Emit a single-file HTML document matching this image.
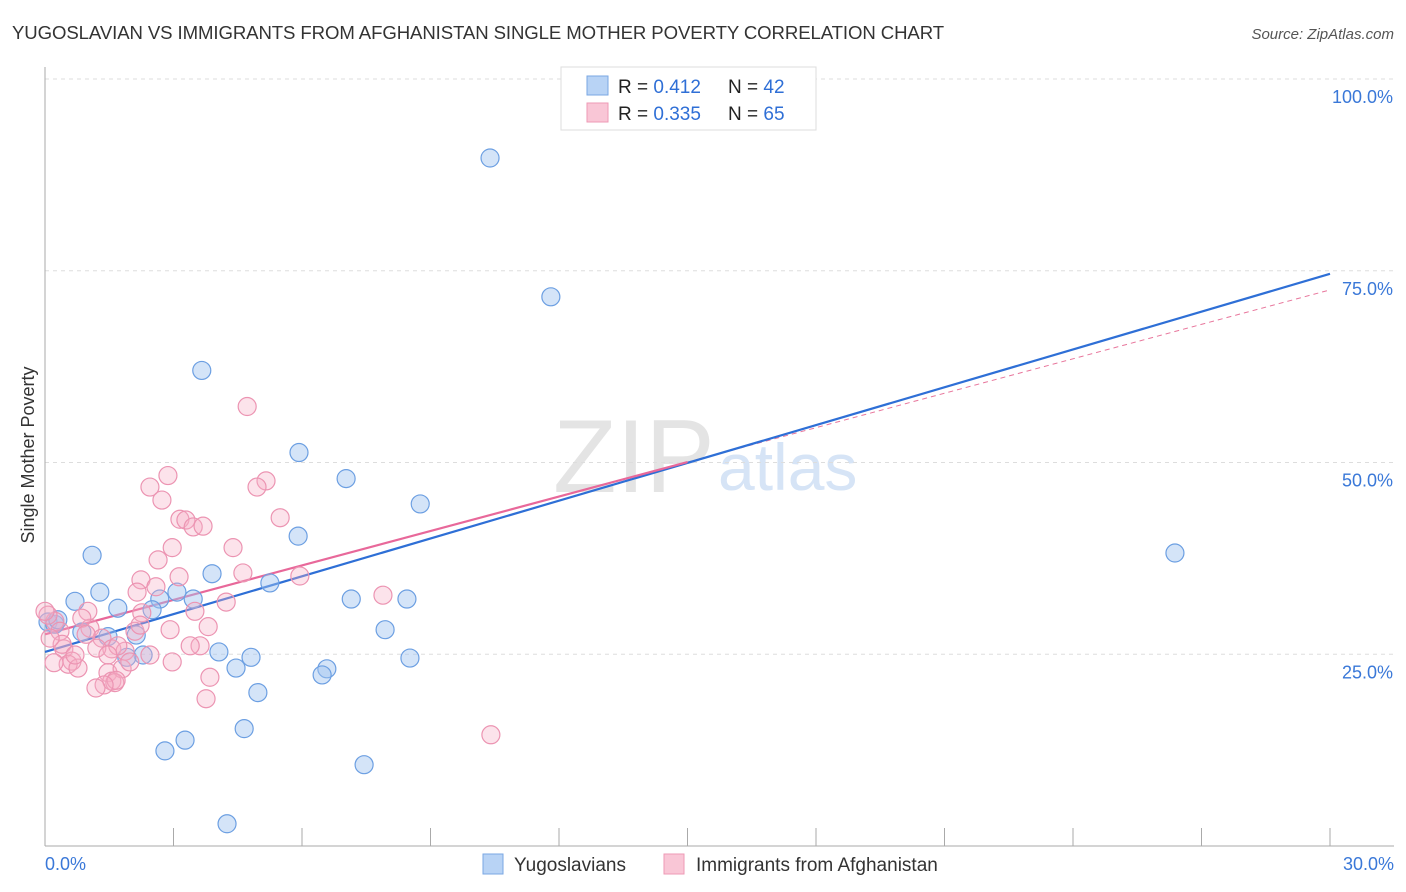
<!DOCTYPE html>
<html><head><meta charset="utf-8">
<style>
body{margin:0;background:#fff;font-family:"Liberation Sans",sans-serif;}
#wrap{position:relative;width:1406px;height:892px;overflow:hidden}
svg text{font-family:"Liberation Sans",sans-serif}
</style></head><body>
<div id="wrap">
<svg id="c" width="1406" height="892" xmlns="http://www.w3.org/2000/svg">
<text x="12" y="39" font-size="18.6" fill="#333" letter-spacing="-0.1">YUGOSLAVIAN VS IMMIGRANTS FROM AFGHANISTAN SINGLE MOTHER POVERTY CORRELATION CHART</text>
<text x="1394" y="39" font-size="15" fill="#555" font-style="italic" text-anchor="end">Source: ZipAtlas.com</text>
<text x="34" y="455" font-size="18" fill="#333" text-anchor="middle" transform="rotate(-90 34 455)">Single Mother Poverty</text>
<text x="553" y="492" font-size="104" fill="#e4e4e4" font-family="Liberation Serif">ZIP</text>
<text x="718" y="490" font-size="66" fill="#d6e4f6">atlas</text>
<g id="grid"></g><g id="axes"></g><g id="lines"></g><g id="pts"></g>
<g>
<rect x="561" y="67" width="255" height="63" fill="#fff" stroke="#ddd"/>
<rect x="587" y="76" width="21" height="19" fill="#b8d3f5" stroke="#7aa7e3"/>
<rect x="587" y="103" width="21" height="19" fill="#f9c6d6" stroke="#ee9ab5"/>
<text x="618" y="93" font-size="19" fill="#222">R = <tspan fill="#2f6fd6">0.412</tspan><tspan x="728">N = </tspan><tspan fill="#2f6fd6">42</tspan></text>
<text x="618" y="120" font-size="19" fill="#222">R = <tspan fill="#2f6fd6">0.335</tspan><tspan x="728">N = </tspan><tspan fill="#2f6fd6">65</tspan></text>
</g>
<g>
<rect x="483" y="854" width="20" height="20" fill="#b8d3f5" stroke="#7aa7e3"/>
<text x="514" y="871" font-size="19" fill="#333">Yugoslavians</text>
<rect x="664" y="854" width="20" height="20" fill="#f9c6d6" stroke="#ee9ab5"/>
<text x="696" y="871" font-size="19" fill="#333">Immigrants from Afghanistan</text>
</g>
</svg>
</div>
<script>
const xTicks=[0,3,6,9,12,15,18,21,24,27,30];
const yTicks=[25,50,75,100];
const blueX=[13.52,10.39,11.81,3.66,5.93,7.03,8.76,1.10,5.91,26.38,3.90,5.25,1.28,0.70,1.70,2.68,3.08,3.46,7.15,8.45,2.50,7.94,1.47,2.13,0.86,0.07,0.23,2.29,1.91,4.06,4.81,4.46,6.58,6.47,8.52,4.97,4.65,3.27,2.80,7.45,4.25,0.3];
const blueY=[100.0,89.7,71.6,62.0,51.3,47.9,44.6,37.9,40.4,38.2,35.5,34.3,33.1,31.9,31.0,32.2,33.1,32.2,32.2,32.2,30.8,28.2,27.3,27.5,27.9,29.2,28.9,24.9,24.6,25.3,24.6,23.2,23.1,22.3,24.5,20.0,15.3,13.8,12.4,10.6,2.9,29.5];
const pinkX=[4.72,2.87,5.16,2.45,4.95,2.73,3.15,3.29,3.46,3.69,5.49,4.39,2.64,2.97,4.62,2.24,3.13,2.59,2.15,4.23,5.95,7.89,2.26,1.00,3.50,3.81,2.10,1.05,0.23,0.07,0,1.33,0.86,0.35,3.62,2.97,1.56,1.87,1.21,1.70,0.44,0.63,0.54,0.77,0.21,1.47,1.56,1.80,1.63,1.66,3.85,1.38,1.19,3.76,10.41,0.40,0.70,2.22,0.96,0.12,1.47,2.45,2.92,3.39,1.98];
const pinkY=[57.3,48.3,47.6,46.8,46.8,45.1,42.6,42.5,41.6,41.7,42.8,38.9,37.3,38.9,35.6,34.7,35.1,33.8,33.1,31.8,35.2,32.7,30.4,30.6,30.6,28.6,28.0,28.4,29.3,30.1,30.6,27.1,29.7,28.0,26.1,24.0,25.7,25.4,25.8,26.1,25.7,24.1,23.7,23.2,23.9,22.6,21.5,23.1,21.3,21.6,22.0,21.0,20.6,19.2,14.5,26.3,24.9,28.8,27.6,27.1,24.9,24.9,28.2,26.1,24.0];
const blueLine=[25.3,74.6];
const pinkLine=[27.6,72.5];
const X0=45,X1=1330,Y0=846,YT=79;
const sx=v=>X0+(X1-X0)*v/30, sy=v=>Y0-(Y0-YT)*v/100;
const NS="http://www.w3.org/2000/svg";
function mk(p,t,a){const e=document.createElementNS(NS,t);for(const k in a)e.setAttribute(k,a[k]);document.getElementById(p).appendChild(e);return e;}
[...yTicks].forEach(v=>{
 const l=mk('grid','line',{x1:X0,x2:1394,y1:sy(v),y2:sy(v),stroke:'#ddd','stroke-dasharray':'4,4'});
 
 
 const t=mk('grid','text',{x:1393,y:sy(v)+24,'font-size':18,fill:'#3a78d8','text-anchor':'end'});
 t.textContent=v.toFixed(1)+'%';
 
 
});
mk('axes','line',{x1:X0,x2:X0,y1:67,y2:Y0,stroke:'#aaa'});
mk('axes','line',{x1:X0,x2:1394,y1:Y0,y2:Y0,stroke:'#aaa'});
xTicks.forEach(v=>{const l=mk('axes','line',{x1:sx(v),x2:sx(v),y1:828,y2:Y0,stroke:'#aaa'});
 
 });
[[0,'0.0%',45,'start'],[30,'30.0%',1394,'end']].forEach(d=>{const t=mk('axes','text',{x:d[2],y:870,'font-size':18,fill:'#3a78d8','text-anchor':d[3]});t.textContent=d[1];
 
 });
blueX.forEach((x,i)=>{const c=mk('pts','circle',{cx:sx(x),cy:sy(blueY[i]),r:9,fill:'rgba(160,196,240,0.45)',stroke:'#6c9fe2','stroke-width':1.2});
 
 });
pinkX.forEach((x,i)=>{const c=mk('pts','circle',{cx:sx(x),cy:sy(pinkY[i]),r:9,fill:'rgba(246,175,198,0.35)',stroke:'#ec94b2','stroke-width':1.2});
 
 });
const pm=v=>pinkLine[0]+(pinkLine[1]-pinkLine[0])*v/30;
let l=mk('lines','line',{x1:sx(15),y1:sy(pm(15)),x2:sx(30),y2:sy(pinkLine[1]),stroke:'#e8769c','stroke-width':1,'stroke-dasharray':'5,4'});


l=mk('lines','line',{x1:sx(0),y1:sy(blueLine[0]),x2:sx(30),y2:sy(blueLine[1]),stroke:'#2e6fd6','stroke-width':2.2});


l=mk('lines','line',{x1:sx(0),y1:sy(pinkLine[0]),x2:sx(15),y2:sy(pm(15)),stroke:'#e8689a','stroke-width':2.2});


</script>
</body></html>
